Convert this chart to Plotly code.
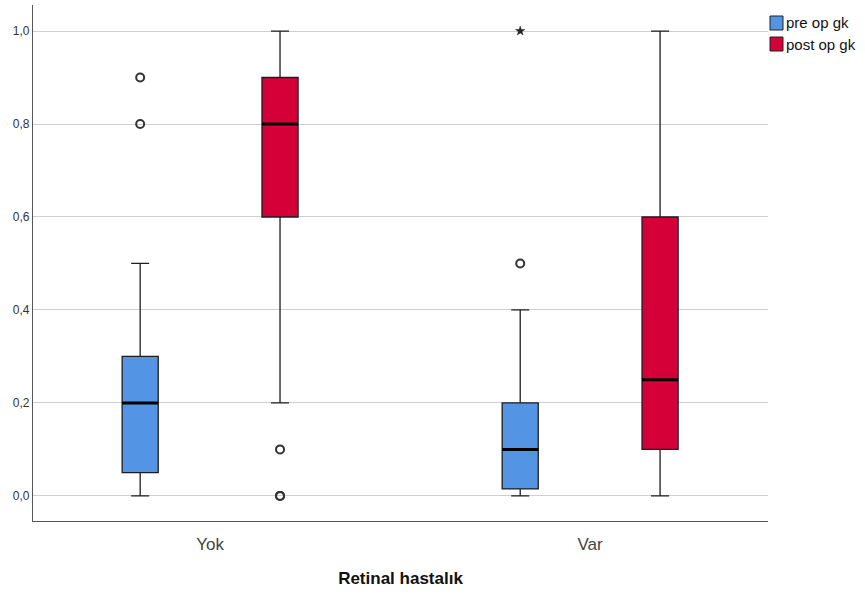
import plotly.graph_objects as go

# Box summaries per group (Retinal hastalık: Yok / Var)
groups = ["Yok", "Var"]

pre_low = [0.0, 0.0]
pre_q1 = [0.05, 0.015]
pre_median = [0.2, 0.1]
pre_q3 = [0.3, 0.2]
pre_high = [0.5, 0.4]

post_low = [0.2, 0.0]
post_q1 = [0.6, 0.1]
post_median = [0.8, 0.25]
post_q3 = [0.9, 0.6]
post_high = [1.0, 1.0]

# Outliers (circles) and extreme values (stars)
pre_outliers = {"Yok": [0.9, 0.8], "Var": [0.5]}
pre_extremes = {"Yok": [], "Var": [1.0]}
post_outliers = {"Yok": [0.1, 0.0, 0.0], "Var": []}
post_extremes = {"Yok": [], "Var": []}

series = [
    ("pre op gk", "#5494E4", pre_low, pre_q1, pre_median, pre_q3, pre_high,
     pre_outliers, pre_extremes, -0.184),
    ("post op gk", "#D50037", post_low, post_q1, post_median, post_q3, post_high,
     post_outliers, post_extremes, 0.184),
]

y_ticks = [0.0, 0.2, 0.4, 0.6, 0.8, 1.0]
y_ticktext = ["0,0", "0,2", "0,4", "0,6", "0,8", "1,0"]

box_w = 0.095
fig = go.Figure()

for name, color, lo, q1, med, q3, hi, outs, extr, off in series:
    xs = [i + off for i in range(len(groups))]
    fig.add_trace(go.Box(
        x=xs, lowerfence=lo, q1=q1, median=med, q3=q3, upperfence=hi,
        width=box_w, whiskerwidth=0.5, fillcolor=color,
        line=dict(color="#1e1e1e", width=1.3), boxpoints=False,
        name=name, showlegend=False, hoverinfo="skip",
    ))
    # thick median bars
    for x, m in zip(xs, med):
        fig.add_trace(go.Scatter(
            x=[x - box_w / 2, x + box_w / 2], y=[m, m], mode="lines",
            line=dict(color="black", width=3), showlegend=False, hoverinfo="skip",
        ))
    ox, oy, ex, ey = [], [], [], []
    for i, g in enumerate(groups):
        for v in outs[g]:
            ox.append(xs[i]); oy.append(v)
        for v in extr[g]:
            ex.append(xs[i]); ey.append(v)
    if ox:
        fig.add_trace(go.Scatter(
            x=ox, y=oy, mode="markers",
            marker=dict(symbol="circle-open", size=8, color="#333333",
                        line=dict(width=2, color="#333333")),
            showlegend=False, hoverinfo="skip",
        ))
    if ex:
        fig.add_trace(go.Scatter(
            x=ex, y=ey, mode="markers",
            marker=dict(symbol="star", size=7, color="#222222",
                        line=dict(width=0.5, color="#222222")),
            showlegend=False, hoverinfo="skip",
        ))

# legend swatches drawn in paper space
shapes = []
annotations = []
for k, (name, color, *_rest) in enumerate(series):
    top = 589 - 8 - k * 21
    shapes.append(dict(
        type="rect", xref="paper", yref="paper",
        x0=(770 - 33) / 735, x1=(783 - 33) / 735,
        y0=(top - 14 - 76) / 516, y1=(top - 76) / 516,
        fillcolor=color, line=dict(color="#222222", width=1),
    ))
    annotations.append(dict(
        xref="paper", yref="paper", x=(784 - 33) / 735, y=(top - 7 - 76) / 516,
        text=name, showarrow=False, xanchor="left", yanchor="middle",
        font=dict(family="Liberation Sans, Arial", size=15, color="#111111"),
    ))

fig.update_layout(
    width=865, height=597,
    margin=dict(l=33, r=97, t=5, b=76),
    paper_bgcolor="white", plot_bgcolor="white",
    boxmode="overlay",
    shapes=shapes, annotations=annotations,
    font=dict(family="Liberation Sans, Arial", color="#333333"),
    xaxis=dict(
        range=[-0.466, 1.468], tickvals=list(range(len(groups))), ticktext=groups,
        showgrid=False, zeroline=False, showline=True, linecolor="#555555",
        linewidth=1.3, ticks="", ticklabelstandoff=7,
        tickfont=dict(size=17, color="#444444"),
        title=dict(text="<b>Retinal hastalık</b>", standoff=19,
                   font=dict(size=17, color="#111111")),
    ),
    yaxis=dict(
        range=[-0.054, 1.056], tickvals=y_ticks, ticktext=y_ticktext,
        showgrid=True, gridcolor="#cfcfcf", gridwidth=1.3, zeroline=False,
        showline=True, linecolor="#555555", linewidth=1.3, ticks="",
        tickfont=dict(size=12, color="#333333"),
    ),
)

fig.write_html("out.html")
